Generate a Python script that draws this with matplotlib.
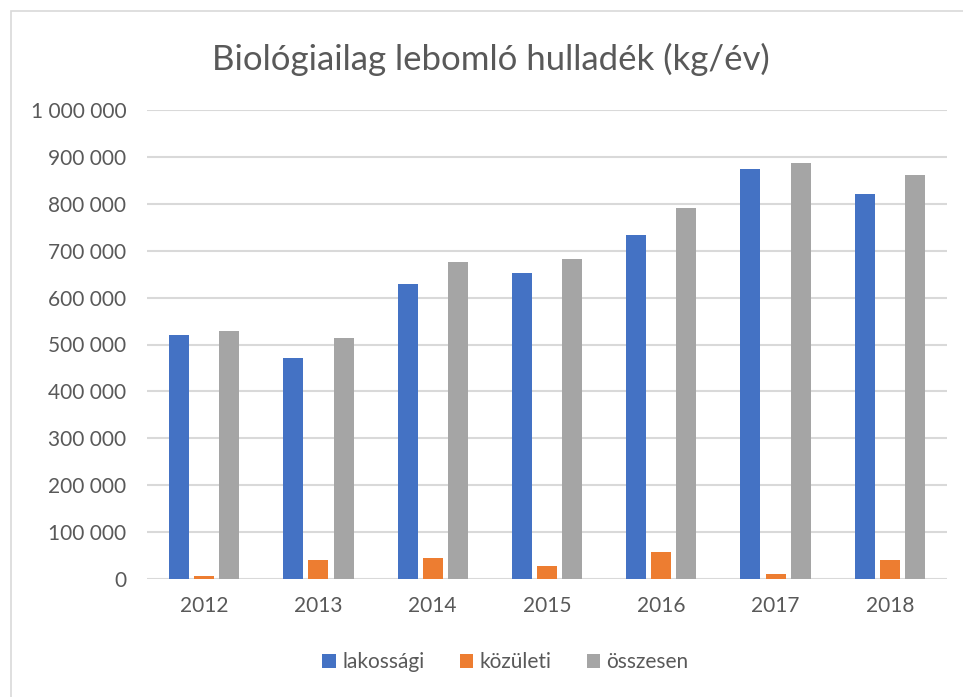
import matplotlib.pyplot as plt
import numpy as np
from matplotlib.patches import Rectangle
from matplotlib.ticker import FuncFormatter

plt.rcParams["font.family"] = ["Lato", "DejaVu Sans"]

years = ["2012", "2013", "2014", "2015", "2016", "2017", "2018"]
lakossagi = [521000, 472000, 630000, 653000, 733000, 875000, 820000]
kozuleti = [7000, 41000, 45000, 28000, 58000, 11000, 41000]
osszesen = [528000, 513000, 676000, 683000, 791000, 888000, 862000]

series = [
    ("lakossági", lakossagi, "#4472c4"),
    ("közületi", kozuleti, "#ed7d31"),
    ("összesen", osszesen, "#a5a5a5"),
]

fig = plt.figure(figsize=(9.63, 6.97), dpi=100)
# chart frame: only top and left edges fall inside the picture
fig.patches.append(Rectangle((11 / 963, -0.05), 1.1, 1.05 - 11 / 697, transform=fig.transFigure,
                             fill=False, edgecolor="#d9d9d9", linewidth=1.2))
ax = fig.add_axes([147 / 963, 118 / 697, 800 / 963, 469 / 697])

x = np.arange(len(years))
width = 0.176
step = 0.22
for i, (name, vals, color) in enumerate(series):
    ax.bar(x + (i - 1) * step, vals, width, color=color, label=name, zorder=3)

ax.set_xlim(-0.5, len(years) - 0.5)
ax.set_ylim(0, 1000000)
ax.set_yticks(np.arange(0, 1000001, 100000))
ax.yaxis.set_major_formatter(FuncFormatter(lambda v, _: f"{int(v):,}".replace(",", " ")))
ax.set_xticks(x)
ax.set_xticklabels(years)
ax.grid(axis="y", color="#d9d9d9", linewidth=1.5, zorder=0)
for s in ["top", "right", "left", "bottom"]:
    ax.spines[s].set_visible(False)
ax.tick_params(axis="both", length=0, labelsize=15, colors="#595959")
ax.tick_params(axis="y", pad=15)
ax.tick_params(axis="x", pad=12)

fig.text(0.51, 0.915, "Biológiailag lebomló hulladék (kg/év)", ha="center", va="center",
         fontsize=25, color="#595959")

fig.legend(loc="center", bbox_to_anchor=(0.525, 0.05), ncol=3, frameon=False,
           fontsize=15, labelcolor="#595959", handlelength=0.65, handleheight=0.65,
           handletextpad=0.3, columnspacing=1.7)

fig.savefig("out.png", dpi=100)
